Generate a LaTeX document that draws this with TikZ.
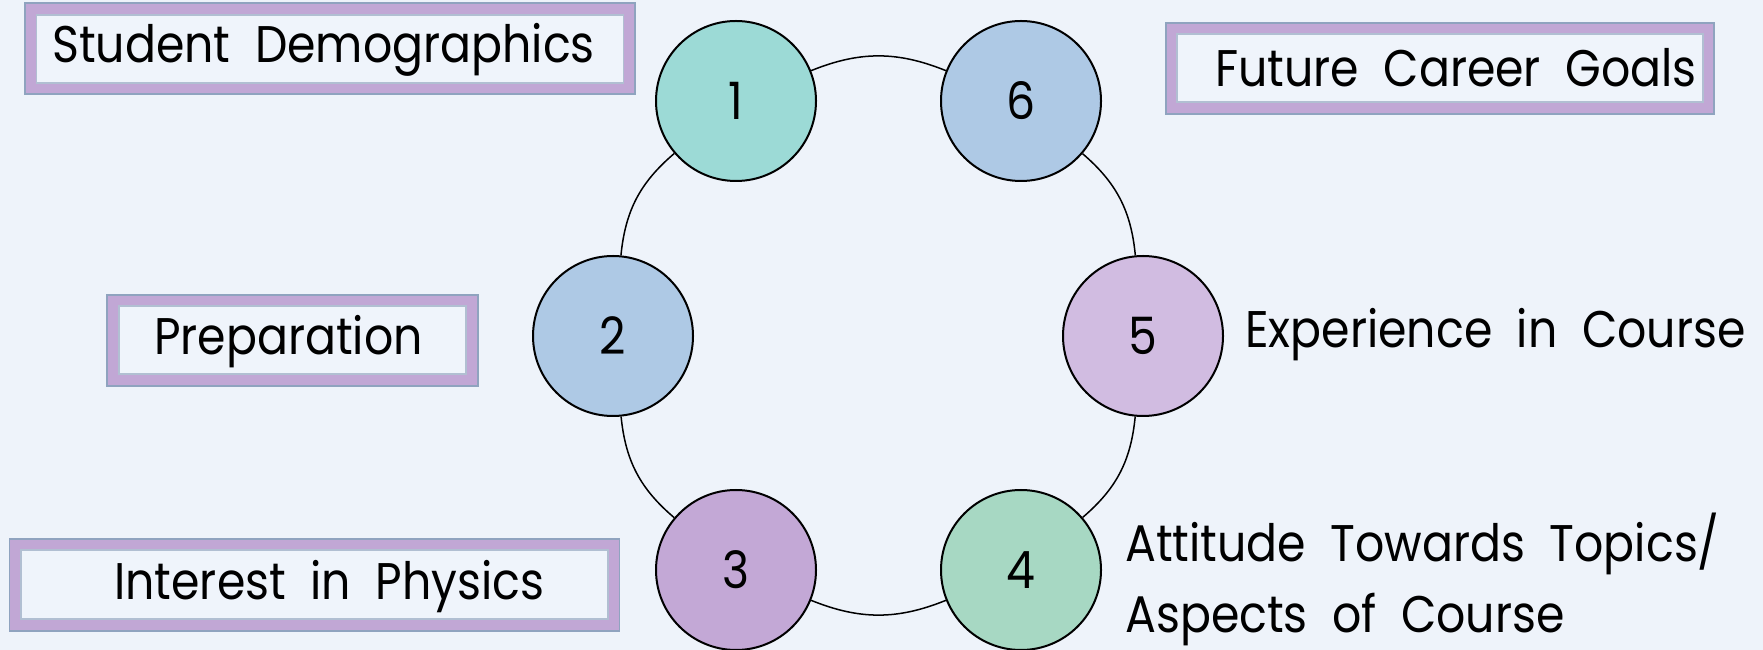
\documentclass[tikz,border=0pt]{standalone}
\usepackage{fontspec}
\setmainfont{Poppins}[FakeStretch=0.89, WordSpace=2]
\begin{document}
\begin{tikzpicture}[x=1pt,y=1pt,
  every node/.style={font=\fontsize{51.5}{60}\selectfont, text=black},
  ring/.style={circle, draw=black, line width=2pt, minimum size=160pt, inner sep=0pt},
  outerbox/.style={rectangle, draw=boxline, line width=1.2pt, fill=boxpurple, inner sep=0pt},
  innerbox/.style={rectangle, draw=boxline!70, line width=1.2pt, fill=innerfill, inner sep=0pt},
  label/.style={anchor=base west, inner sep=0pt},
  link/.style={draw=black, line width=1.5pt}
]
\definecolor{bg}{HTML}{EEF3FA}
\definecolor{boxpurple}{HTML}{C1A7D5}
\definecolor{boxline}{HTML}{8FA3BF}
\definecolor{innerfill}{HTML}{EFF4FB}
\definecolor{cteal}{HTML}{9CDAD6}
\definecolor{cblue}{HTML}{AEC9E5}
\definecolor{cpurple}{HTML}{C3A8D6}
\definecolor{cgreen}{HTML}{A7D8C3}
\definecolor{clav}{HTML}{D1BCE1}
\fill[bg] (0,0) rectangle (1763,650);
\useasboundingbox (0,0) rectangle (1763,650);

% boxes
\node[outerbox, minimum width=610pt, minimum height=91pt] (b1o) at (330,601.5) {};
\node[innerbox, minimum width=587pt, minimum height=68pt] (b1i) at (330,601) {};
\node[label] (t1) at (52,587) {Student Demographics};

\node[outerbox, minimum width=371pt, minimum height=91pt] (b2o) at (292.5,309.5) {};
\node[innerbox, minimum width=347pt, minimum height=68pt] (b2i) at (292.5,310) {};
\node[label] (t2) at (154,295) {Preparation};

\node[outerbox, minimum width=610pt, minimum height=92pt] (b3o) at (314.5,65) {};
\node[innerbox, minimum width=587pt, minimum height=69pt] (b3i) at (314.5,65.5) {};
\node[label] (t3) at (114,50) {Interest in Physics};

\node[outerbox, minimum width=548pt, minimum height=91pt] (b6o) at (1440,581.5) {};
\node[innerbox, minimum width=526pt, minimum height=68pt] (b6i) at (1440,582) {};
\node[label] (t6) at (1215,563) {Future Career Goals};

\node[label] (t5) at (1245,302) {Experience in Course};
\node[label] (t4a) at (1125,88) {Attitude Towards Topics/};
\node[label] (t4b) at (1125,17) {Aspects of Course};

% circles
\node[ring, fill=cteal] (c1) at (736,549) {1};
\node[ring, fill=cblue] (c2) at (613,314) {2};
\node[ring, fill=cpurple] (c3) at (736,80) {3};
\node[ring, fill=cgreen] (c4) at (1021,80) {4};
\node[ring, fill=clav] (c5) at (1143,314) {5};
\node[ring, fill=cblue] (c6) at (1021,549) {6};

% connectors
\draw[link] (c1) to[bend left=22] (c6);
\draw[link] (c6) to[bend left=22] (c5);
\draw[link] (c5) to[bend left=22] (c4);
\draw[link] (c4) to[bend left=22] (c3);
\draw[link] (c3) to[bend left=22] (c2);
\draw[link] (c2) to[bend left=22] (c1);
\end{tikzpicture}
\end{document}
